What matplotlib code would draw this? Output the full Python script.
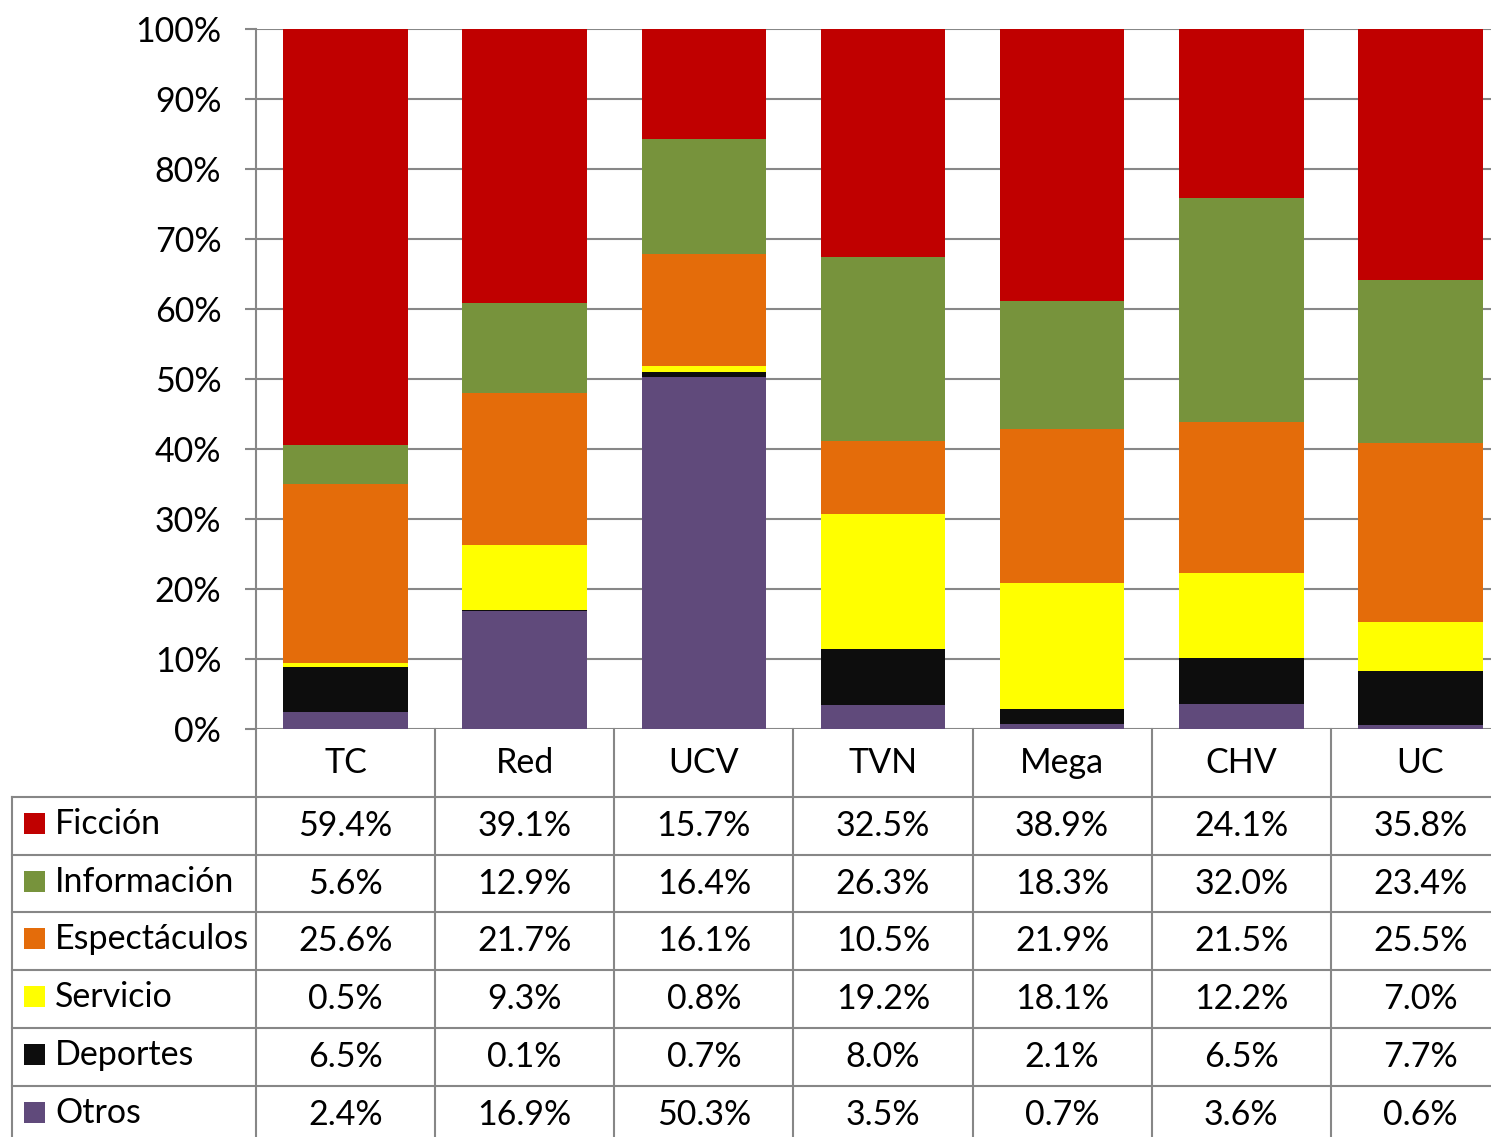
import numpy as np
import matplotlib.pyplot as plt
from matplotlib.lines import Line2D
from matplotlib.patches import Rectangle
from matplotlib.transforms import blended_transform_factory

plt.rcParams['font.family'] = ['Lato', 'DejaVu Sans']

channels = ['TC', 'Red', 'UCV', 'TVN', 'Mega', 'CHV', 'UC']
genres = ['Ficción', 'Información', 'Espectáculos', 'Servicio', 'Deportes', 'Otros']
ficcion = [59.4, 39.1, 15.7, 32.5, 38.9, 24.1, 35.8]
informacion = [5.6, 12.9, 16.4, 26.3, 18.3, 32.0, 23.4]
espectaculos = [25.6, 21.7, 16.1, 10.5, 21.9, 21.5, 25.5]
servicio = [0.5, 9.3, 0.8, 19.2, 18.1, 12.2, 7.0]
deportes = [6.5, 0.1, 0.7, 8.0, 2.1, 6.5, 7.7]
otros = [2.4, 16.9, 50.3, 3.5, 0.7, 3.6, 0.6]
colors = ['#C00000', '#77933C', '#E46C0A', '#FFFF00', '#0D0D0D', '#604A7B']

series = [ficcion, informacion, espectaculos, servicio, deportes, otros]
W, H = 1491, 1137
grid_c = '#878787'
fs = 24.5

fig = plt.figure(figsize=(W / 100, H / 100), dpi=100)
ax = fig.add_axes([256 / W, 1 - 729 / H, 1254 / W, 700 / H])

data = np.array(series, dtype=float)
data = data / data.sum(axis=0)
x = np.arange(len(channels))
bottom = np.zeros(len(channels))
# stack from the bottom: Otros first, Ficción on top
for i in range(len(genres) - 1, -1, -1):
    ax.bar(x, data[i], bottom=bottom, width=0.695, color=colors[i],
           edgecolor='none', zorder=2)
    bottom += data[i]

ax.set_xlim(-0.5, len(channels) - 0.5)
ax.set_ylim(0, 1)
ax.set_yticks(np.arange(0, 1.01, 0.1))
ax.set_yticklabels([f'{int(round(v * 100))}%' for v in np.arange(0, 1.01, 0.1)],
                   fontsize=fs)
ax.set_xticks([])
ax.yaxis.grid(True, color=grid_c, linewidth=1.5, zorder=1)
ax.tick_params(axis='y', length=8, width=1.5, color=grid_c, pad=17)
for s in ['top', 'right', 'bottom']:
    ax.spines[s].set_visible(False)
ax.spines['left'].set_color(grid_c)
ax.spines['left'].set_linewidth(1.5)
ax.spines['left'].set_zorder(3)

# data table under the chart
def fy(py):
    return 1 - py / H

bt = blended_transform_factory(ax.transData, fig.transFigure)
row_y = [797, 855, 912, 970, 1028, 1086, 1144]
for xb in np.arange(-0.5, len(channels), 1.0):
    fig.add_artist(Line2D([xb, xb], [fy(729), fy(H + 5)], transform=bt,
                          color=grid_c, linewidth=1.5))
fig.add_artist(Line2D([12 / W, 12 / W], [fy(797), fy(H + 5)],
                      transform=fig.transFigure, color=grid_c, linewidth=1.5))
for ry in row_y[:-1]:
    fig.add_artist(Line2D([12 / W, 1], [fy(ry), fy(ry)],
                          transform=fig.transFigure, color=grid_c, linewidth=1.5))

for j, ch in enumerate(channels):
    fig.text(j, fy(763), ch, transform=bt, ha='center', va='center', fontsize=fs)

for i, g in enumerate(genres):
    cy = (row_y[i] + row_y[i + 1]) / 2 - 2
    fig.add_artist(Rectangle((24 / W, fy(cy + 10)), 21 / W, 21 / H,
                             transform=fig.transFigure, facecolor=colors[i],
                             edgecolor='none'))
    fig.text(55 / W, fy(cy), g, ha='left', va='center', fontsize=fs)
    for j in range(len(channels)):
        fig.text(j, fy(cy + 2), f'{series[i][j]:.1f}%', transform=bt,
                 ha='center', va='center', fontsize=fs)

fig.savefig('out.png', dpi=100)
